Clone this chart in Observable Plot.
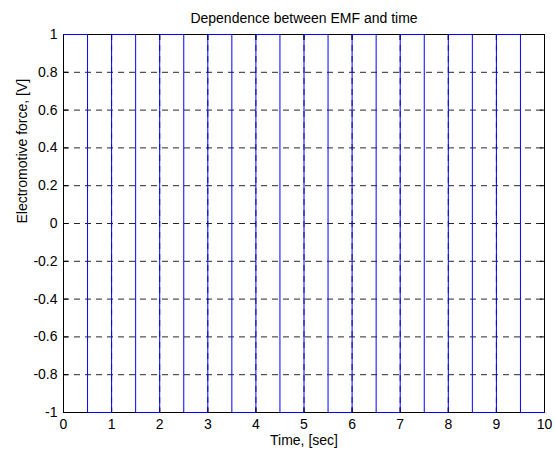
<!DOCTYPE html>
<html><head><meta charset="utf-8">
<script src="https://cdn.jsdelivr.net/npm/d3@7"></script>
<script src="https://cdn.jsdelivr.net/npm/@observablehq/plot@0.6"></script>
<style>
body{margin:0;background:#fff}
svg{font-family:"Liberation Sans",Arial,Helvetica,sans-serif}
</style>
</head><body><div id="chart"></div>
<script>
const title = "Dependence between EMF and time";
const xLabel = "Time, [sec]";
const yLabel = "Electromotive force, [V]";
const times = [0,0.5,1,1.5,2,2.5,3,3.5,4,4.5,5,5.5,6,6.5,7,7.5,8,8.5,9,9.5,10];
const emf   = [1,-1,1,-1,1,-1,1,-1,1,-1,1,-1,1,-1,1,-1,1,-1,1,-1,-1];
const xTicks = [0,1,2,3,4,5,6,7,8,9,10];
const yTicks = [-1,-0.8,-0.6,-0.4,-0.2,0,0.2,0.4,0.6,0.8,1];
const yTickLabels = ["-1","-0.8","-0.6","-0.4","-0.2","0","0.2","0.4","0.6","0.8","1"];

const data = times.map((t, i) => ({t, v: emf[i]}));
const grid = {stroke: "#000", strokeOpacity: 0.85, strokeDasharray: "6,5", strokeWidth: 1};
const blank = () => "";

const chart = Plot.plot({
  width: 555, height: 453,
  marginLeft: 63, marginRight: 11, marginTop: 34, marginBottom: 41,
  style: {fontSize: "14px", color: "#000", background: "#fff", overflow: "visible"},
  x: {domain: [0, 10], label: null},
  y: {domain: [-1, 1], label: null},
  marks: [
    Plot.gridX(xTicks, grid),
    Plot.gridY(yTicks, grid),
    Plot.frame({stroke: "#000", strokeWidth: 1}),
    Plot.axisX(xTicks, {anchor: "bottom", tickSize: -5, tickFormat: blank, label: null}),
    Plot.axisX(xTicks, {anchor: "top", tickSize: -5, tickFormat: blank, label: null}),
    Plot.axisY(yTicks, {anchor: "left", tickSize: -5, tickFormat: blank, label: null}),
    Plot.axisY(yTicks, {anchor: "right", tickSize: -5, tickFormat: blank, label: null}),
    Plot.line(data, {x: "t", y: "v", curve: "step-after", stroke: "#0000ff", strokeWidth: 1}),
    Plot.axisX(xTicks, {tickSize: 0, tickPadding: 7, fontSize: 14, label: null}),
    Plot.axisY(yTicks, {tickSize: 0, tickPadding: 6, fontSize: 14, label: null,
      tickFormat: (d) => yTickLabels[yTicks.indexOf(d)]}),
    Plot.text([title], {frameAnchor: "top", dy: -16, fontSize: 14, lineAnchor: "middle"}),
    Plot.text([xLabel], {frameAnchor: "bottom", dy: 28, fontSize: 14, lineAnchor: "middle"}),
    Plot.text([yLabel], {frameAnchor: "left", dx: -41, rotate: -90, fontSize: 14, lineAnchor: "middle"})
  ]
});
document.getElementById("chart").appendChild(chart);
</script>
</body></html>
